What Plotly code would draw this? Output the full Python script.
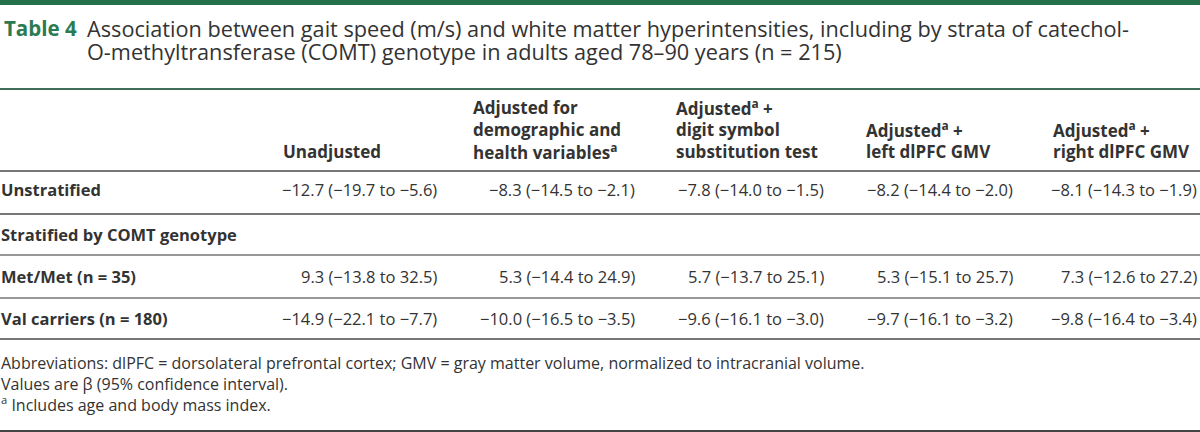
import plotly.graph_objects as go

title_label = "Table 4"
title_lines = [
    "Association between gait speed (m/s) and white matter hyperintensities, including by strata of catechol-",
    "O-methyltransferase (COMT) genotype in adults aged 78–90 years (n = 215)",
]
col_headers = [
    ["Unadjusted"],
    ["Adjusted for", "demographic and", "health variables<sup>a</sup>"],
    ["Adjusted<sup>a</sup> +", "digit symbol", "substitution test"],
    ["Adjusted<sup>a</sup> +", "left dlPFC GMV"],
    ["Adjusted<sup>a</sup> +", "right dlPFC GMV"],
]
row_labels = ["Unstratified", "Stratified by COMT genotype", "Met/Met (n = 35)", "Val carriers (n = 180)"]
row_values = [
    ["−12.7 (−19.7 to −5.6)", "−8.3 (−14.5 to −2.1)", "−7.8 (−14.0 to −1.5)", "−8.2 (−14.4 to −2.0)", "−8.1 (−14.3 to −1.9)"],
    None,
    ["9.3 (−13.8 to 32.5)", "5.3 (−14.4 to 24.9)", "5.7 (−13.7 to 25.1)", "5.3 (−15.1 to 25.7)", "7.3 (−12.6 to 27.2)"],
    ["−14.9 (−22.1 to −7.7)", "−10.0 (−16.5 to −3.5)", "−9.6 (−16.1 to −3.0)", "−9.7 (−16.1 to −3.2)", "−9.8 (−16.4 to −3.4)"],
]
footnotes = [
    "Abbreviations: dlPFC = dorsolateral prefrontal cortex; GMV = gray matter volume, normalized to intracranial volume.",
    "Values are β (95% confidence interval).",
    "<sup>a</sup> Includes age and body mass index.",
]

# layout positions (pixels)
W, H = 1200, 432
header_left = [281, 471, 674, 864, 1051]
value_right = [439, 637, 826, 1015, 1199]
header_line_y = [107, 129, 151]
row_y = [189, 234, 276, 318]
foot_center_y = 384

FONT = "Open Sans"
TXT = "#333333"
GREEN = "#2b7a52"

ann = []
ann.append(dict(x=2, y=28, text="<b>" + title_label + "</b>", xanchor="left", yanchor="middle",
                font=dict(family=FONT, size=20.5, color=GREEN)))
for i, t in enumerate(title_lines):
    ann.append(dict(x=85, y=28 + 23 * i, text=t, xanchor="left", yanchor="middle",
                    font=dict(family=FONT, size=21.7, color=TXT)))
for c, lines in enumerate(col_headers):
    n = len(lines)
    for k, t in enumerate(lines):
        ann.append(dict(x=header_left[c], y=header_line_y[3 - n + k], text="<b>" + t + "</b>",
                        xanchor="left", yanchor="middle", font=dict(family=FONT, size=17, color=TXT)))
for r, lab in enumerate(row_labels):
    ann.append(dict(x=0, y=row_y[r], text="<b>" + lab + "</b>", xanchor="left", yanchor="middle",
                    xshift=-1, font=dict(family=FONT, size=16.5, color=TXT)))
    if row_values[r]:
        for c, v in enumerate(row_values[r]):
            ann.append(dict(x=value_right[c], y=row_y[r], text=v, xanchor="right", yanchor="middle",
                            font=dict(family=FONT, size=16.5, color=TXT)))
ann.append(dict(x=0, y=foot_center_y, text="<br>".join(footnotes), xanchor="left", yanchor="middle",
                align="left", xshift=-1, font=dict(family=FONT, size=16, color=TXT)))
for a in ann:
    a.update(xref="x", yref="y", showarrow=False)

shapes = [
    dict(type="rect", x0=0, x1=W, y0=0, y1=5, fillcolor="#23704a", line=dict(width=0)),
    dict(type="line", x0=0, x1=W, y0=89, y1=89, line=dict(color="#3e6e5a", width=2)),
    dict(type="line", x0=0, x1=W, y0=171, y1=171, line=dict(color="#777777", width=2)),
    dict(type="line", x0=0, x1=W, y0=214, y1=214, line=dict(color="#777777", width=2)),
    dict(type="line", x0=0, x1=W, y0=255, y1=255, line=dict(color="#333333", width=1)),
    dict(type="line", x0=0, x1=W, y0=298, y1=298, line=dict(color="#333333", width=1)),
    dict(type="line", x0=0, x1=W, y0=339, y1=339, line=dict(color="#777777", width=2)),
    dict(type="line", x0=0, x1=W, y0=431, y1=431, line=dict(color="#444444", width=2)),
]
for s in shapes:
    s.update(xref="x", yref="y", layer="above")

fig = go.Figure()
fig.update_layout(
    width=W, height=H, margin=dict(l=0, r=0, t=0, b=0),
    paper_bgcolor="white", plot_bgcolor="white",
    xaxis=dict(range=[0, W], visible=False, fixedrange=True),
    yaxis=dict(range=[H, 0], visible=False, fixedrange=True),
    annotations=ann, shapes=shapes, showlegend=False,
)
fig.write_html("out.html", config={"displayModeBar": False},
               post_script="document.body.style.margin='0';document.body.style.overflow='hidden';")
